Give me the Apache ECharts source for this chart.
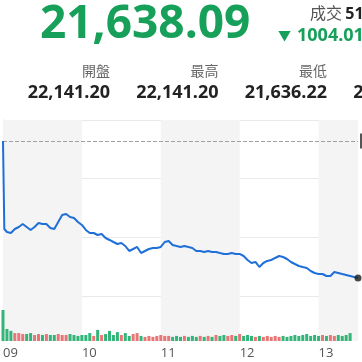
<!DOCTYPE html>
<html><head><meta charset="utf-8">
<script src="https://cdn.jsdelivr.net/npm/echarts@6/dist/echarts.min.js"></script>
<style>html,body{margin:0;padding:0;background:#fff;}#c{width:362px;height:362px;}</style>
</head><body><div id="c"></div>
<script>
// ---- header data ----
const lastPriceText = '21,638.09';
const changeText = '1004.01 (-4.43%)';
const turnoverLabel = '成交';
const turnoverValue = '5180.61億';
const statLabels = ['開盤', '最高', '最低', '昨收'];
const statValues = ['22,141.20', '22,141.20', '21,636.22', '22,642.10'];
const openPrice = 22141.20;

// ---- intraday data (minutes after 09:00) ----
const priceTimes = [0, 1];
for (let t = 3; t <= 270; t += 3) priceTimes.push(t);
const prices = [
  22141.2, 21818.1,
  21807.0, 21803.4, 21818.1, 21825.4, 21836.4, 21825.4, 21814.4, 21825.4, 21840.1, 21836.4,
  21836.4, 21821.7, 21818.1, 21843.8, 21869.5, 21873.1, 21862.1, 21858.5, 21843.8, 21832.8,
  21814.4, 21803.4, 21803.4, 21796.0, 21799.7, 21785.0, 21777.7, 21770.3, 21763.0, 21766.7,
  21755.6, 21737.3, 21744.6, 21752.0, 21729.9, 21737.3, 21744.6, 21748.3, 21748.3, 21752.0,
  21770.3, 21774.0, 21759.3, 21755.6, 21752.0, 21755.6, 21752.0, 21748.3, 21737.3, 21737.3,
  21733.6, 21737.3, 21733.6, 21733.6, 21729.9, 21726.3, 21726.3, 21729.9, 21726.3, 21726.3,
  21718.9, 21704.2, 21693.2, 21696.9, 21678.5, 21693.2, 21700.6, 21704.2, 21711.6, 21718.9,
  21715.2, 21707.9, 21696.9, 21689.5, 21682.2, 21678.5, 21674.9, 21663.8, 21656.5, 21652.8,
  21652.8, 21645.5, 21645.5, 21660.2, 21656.5, 21652.8, 21649.2, 21645.5, 21641.8, 21638.09
];
const volTimes = [];
for (let t = 0; t <= 264; t += 3) volTimes.push(t);
const volumes = [
  98, 38, 32, 25, 25, 22, 22, 25, 19, 22, 19, 22, 19, 19, 22, 19, 19, 22, 19, 16,
  19, 19, 25, 16, 35, 19, 22, 32, 19, 28, 19, 25, 16, 22, 25, 16, 13, 16, 13, 16,
  19, 16, 16, 13, 16, 13, 16, 13, 16, 13, 16, 13, 16, 13, 19, 16, 19, 16, 19, 16,
  22, 16, 19, 16, 13, 16, 13, 16, 13, 16, 13, 16, 13, 16, 19, 16, 19, 22, 16, 19,
  16, 19, 16, 19, 16, 19, 16, 19, 25
];
const hourLabels = ['09', '10', '11', '12', '13'];
const sessionEnd = 270;

// ---- derived ----
const GREEN = '#17a05a', RED = '#e97676', VGREEN = '#33b57a';
const lineData = priceTimes.map((t, i) => [t, prices[i]]);
const volData = volTimes.map((t, k) => {
  const i = priceTimes.indexOf(t);
  const up = i > 0 && prices[i] >= prices[i - 1];
  return { value: [t, volumes[k]], itemStyle: { color: up ? RED : VGREEN } };
});
const lastPrice = prices[prices.length - 1];
const lastTime = priceTimes[priceTimes.length - 1];

// shaded hour bands (every other hour)
const bands = [];
hourLabels.forEach((h, i) => {
  if (i % 2 === 0) bands.push([{ xAxis: i * 60 }, { xAxis: Math.min((i + 1) * 60, sessionEnd) }]);
});
const bandArea = { silent: true, itemStyle: { color: '#f4f4f4' }, data: bands };

const FONT = "'Open Sans','Noto Sans CJK TC',sans-serif";
const graphics = [
  { type: 'text', left: 40, top: 2, style: { text: lastPriceText, font: 'bold 46px ' + FONT, fill: GREEN } },
  { type: 'text', left: 310, top: 6, style: {
      text: '{l|' + turnoverLabel + '} {v|' + turnoverValue + '}',
      rich: { l: { font: '16px ' + FONT, fill: '#555' }, v: { font: 'bold 16px ' + FONT, fill: '#222' } } } },
  { type: 'text', left: 278, top: 30, style: { text: '▼', font: '13px ' + FONT, fill: GREEN } },
  { type: 'text', left: 297, top: 27, style: { text: changeText, font: 'bold 18px ' + FONT, fill: GREEN } }
];
statLabels.forEach((lab, i) => {
  const right = 110 + i * 108.5;
  graphics.push({ type: 'text', x: right, y: 72, style: { text: lab, font: '14px ' + FONT, fill: '#666', align: 'right', verticalAlign: 'middle' } });
  graphics.push({ type: 'text', x: right, y: 93, style: { text: statValues[i], font: 'bold 18px ' + FONT, fill: '#222', align: 'right', verticalAlign: 'middle' } });
});

const xBase = {
  type: 'value', min: 0, max: sessionEnd, interval: 60,
  axisLine: { show: false }, axisTick: { show: false }, splitLine: { show: false }
};

const chart = echarts.init(document.getElementById('c'), null, { renderer: 'canvas' });
chart.setOption({
  animation: false,
  backgroundColor: '#fff',
  graphic: graphics,
  grid: [
    { left: 3, right: 4, top: 120, height: 176 },
    { left: 3, right: 4, top: 296, bottom: 21 }
  ],
  xAxis: [
    Object.assign({}, xBase, { gridIndex: 0, axisLabel: { show: false } }),
    Object.assign({}, xBase, { gridIndex: 1, axisLabel: {
      show: true, showMaxLabel: false, align: 'left', color: '#555', fontSize: 13, margin: 6,
      fontFamily: FONT,
      formatter: v => (v % 60 === 0 ? hourLabels[v / 60] : '') } })
  ],
  yAxis: [
    { type: 'value', gridIndex: 0, min: 21572.0, max: 22218.3, position: 'right',
      axisLine: { show: true, lineStyle: { color: '#dddddd' } }, axisTick: { show: false },
      axisLabel: { show: false }, splitLine: { show: false } },
    { type: 'value', gridIndex: 1, min: 0, max: 142, position: 'right',
      axisLine: { show: true, lineStyle: { color: '#dddddd' } }, axisTick: { show: false },
      axisLabel: { show: false }, splitLine: { show: false } },
    { type: 'value', gridIndex: 0, min: 0, max: 3, interval: 1, position: 'left',
      axisLine: { show: false }, axisTick: { show: false }, axisLabel: { show: false },
      splitLine: { show: true, lineStyle: { color: '#e9e9e9', width: 1 } } }
  ],
  series: [
    { type: 'line', xAxisIndex: 0, yAxisIndex: 0, data: lineData, showSymbol: false,
      lineStyle: { color: '#1f6fd8', width: 2 }, z: 5,
      markArea: bandArea,
      markLine: { silent: true, symbol: 'none',
        data: [
          { yAxis: openPrice, lineStyle: { color: '#a0a0a0', type: 'dashed', width: 1 },
            label: { position: 'end', distance: 2, formatter: statValues[0], color: '#fff', backgroundColor: '#555', padding: [2, 4], fontSize: 11 } },
          { yAxis: lastPrice, lineStyle: { opacity: 0 },
            label: { position: 'end', distance: 4, formatter: lastPriceText, color: '#fff', backgroundColor: GREEN, padding: [2, 4], fontSize: 11 } }
        ] } },
    { type: 'scatter', xAxisIndex: 0, yAxisIndex: 0, data: [[lastTime, lastPrice]],
      symbolSize: 7, itemStyle: { color: '#1a1a1a' }, z: 6 },
    { type: 'bar', xAxisIndex: 1, yAxisIndex: 1, data: volData, barWidth: 3, markArea: bandArea }
  ]
});
</script></body></html>
